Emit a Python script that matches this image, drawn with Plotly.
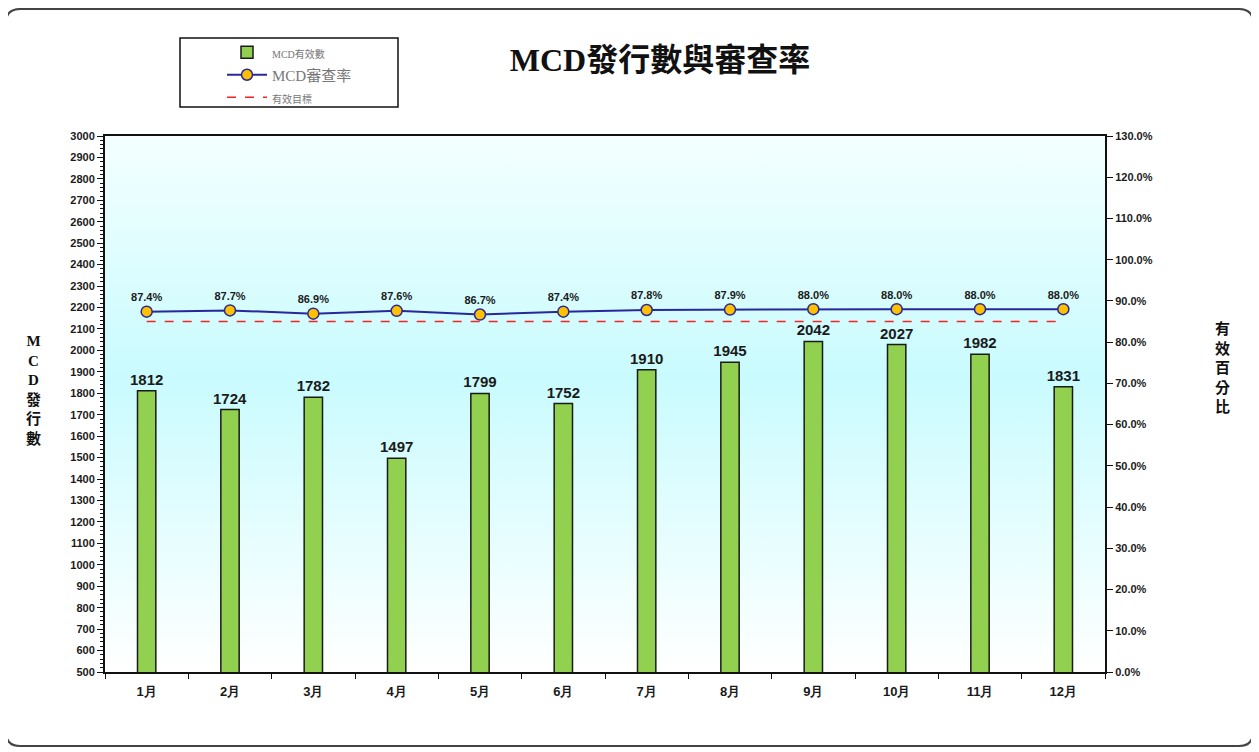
import base64

import plotly.graph_objects as go

months = ["1月", "2月", "3月", "4月", "5月", "6月", "7月", "8月", "9月", "10月", "11月", "12月"]
valid_counts = [1812, 1724, 1782, 1497, 1799, 1752, 1910, 1945, 2042, 2027, 1982, 1831]
review_rates = [0.874, 0.877, 0.869, 0.876, 0.867, 0.874, 0.878, 0.879, 0.880, 0.880, 0.880, 0.880]
target_rate = [0.85] * len(months)

# page is offset by the 8px body margin, so work in reference pixels minus 8
OFF = 8
W, H = 1259 - OFF, 752 - OFF
L, R, T, B = 105 - OFF, 154, 136 - OFF, 80
PW, PH = W - L - R, H - T - B


def px_x(v):
    return (v - OFF - L) / PW


def px_y(v):
    return (H - B - (v - OFF)) / PH


# cyan gradient behind the plot area
svg = (
    '<svg xmlns="http://www.w3.org/2000/svg" width="100" height="100" preserveAspectRatio="none">'
    '<defs><linearGradient id="g" x1="0" y1="0" x2="0" y2="1">'
    '<stop offset="0" stop-color="#f4ffff"/><stop offset="0.45" stop-color="#c9fbfe"/>'
    '<stop offset="1" stop-color="#ffffff"/></linearGradient></defs>'
    '<rect width="100" height="100" fill="url(#g)"/></svg>'
)
bg_src = "data:image/svg+xml;base64," + base64.b64encode(svg.encode()).decode()

bold = dict(family="Arial, Liberation Sans", color="#1a1a1a", weight="bold")

fig = go.Figure()
fig.add_trace(go.Bar(
    x=months, y=valid_counts, name='<span style="font-size:10px">MCD有效數</span>', width=0.22,
    marker=dict(color="#92d050", line=dict(color="#1a1a1a", width=1.5)),
    text=valid_counts, textposition="outside", cliponaxis=False, constraintext="none",
    textfont=dict(size=15, **bold),
))
fig.add_trace(go.Scatter(
    x=months, y=review_rates, name="MCD審查率",
    yaxis="y2", mode="lines+markers+text",
    line=dict(color="#28289a", width=2),
    marker=dict(color="#ffc000", size=11, line=dict(color="#28289a", width=1.5)),
    text=[f"{r:.1%}" for r in review_rates], textposition="top center",
    textfont=dict(size=11, **bold),
))
fig.add_trace(go.Scatter(
    x=months, y=target_rate, name='<span style="font-size:10px">有效目標</span>',
    yaxis="y2", mode="lines",
    line=dict(color="#ff2020", width=1.5, dash="dash"),
))

tick_font = dict(size=11, **bold)
fig.update_layout(
    width=W, height=H,
    margin=dict(l=L, r=R, t=T, b=B),
    paper_bgcolor="white", plot_bgcolor="rgba(0,0,0,0)",
    showlegend=True,
    legend=dict(
        x=px_x(222), y=px_y(36), xanchor="left", yanchor="top",
        bgcolor="rgba(0,0,0,0)", borderwidth=0,
        font=dict(family="Liberation Serif, Noto Sans CJK TC", size=15, color="#777"),
        tracegroupgap=0, itemwidth=40,
    ),
    title=dict(
        text="<b>MCD發行數與審查率</b>", x=(660 - OFF) / W, y=1 - (60 - OFF) / H,
        xanchor="center", yanchor="middle",
        font=dict(family="Liberation Serif, Noto Sans CJK TC", size=32, color="#111"),
    ),
    xaxis=dict(
        type="category", range=[-0.5, len(months) - 0.5],
        showline=True, linecolor="#111", linewidth=2, mirror=True,
        ticks="outside", tickson="boundaries", ticklen=5, tickcolor="#111",
        tickfont=dict(size=13, **bold), ticklabelstandoff=6,
    ),
    yaxis=dict(
        range=[500, 3000], dtick=100, showgrid=False, zeroline=False,
        showline=True, linecolor="#111", linewidth=2,
        ticks="outside", ticklen=6, tickcolor="#111", tickfont=tick_font,
        minor=dict(dtick=20, ticks="outside", ticklen=3, tickcolor="#111"),
    ),
    yaxis2=dict(
        range=[0, 1.3], dtick=0.1, tickformat=".1%", overlaying="y", side="right",
        showgrid=False, zeroline=False, showline=True, linecolor="#111", linewidth=2,
        ticks="outside", ticklen=6, tickcolor="#111", tickfont=tick_font,
    ),
    images=[dict(
        source=bg_src, xref="paper", yref="paper", x=0, y=1, sizex=1, sizey=1,
        xanchor="left", yanchor="top", sizing="stretch", layer="below",
    )],
)

# legend frame
fig.add_shape(type="rect", xref="paper", yref="paper",
              x0=px_x(180), x1=px_x(398), y0=px_y(107), y1=px_y(38),
              line=dict(color="#111", width=1.5), fillcolor="white", layer="below")

# vertical axis titles
axis_title_font = dict(family="Liberation Serif, Noto Sans CJK TC", size=15, color="#111")
fig.add_annotation(
    xref="paper", yref="paper", x=px_x(24), y=px_y(390), showarrow=False,
    text="<b>M<br>C<br>D<br>發<br>行<br>數</b>", font=axis_title_font,
)
fig.add_annotation(
    xref="paper", yref="paper", x=px_x(1232), y=px_y(368), showarrow=False,
    text="<b>有<br>效<br>百<br>分<br>比</b>", font=axis_title_font,
)

# rounded outer frame
x0, x1 = px_x(6), px_x(1253)
y0, y1 = px_y(746), px_y(9)
rx, ry = 14 / PW, 14 / PH
frame = (
    f"M {x0 + rx} {y1} L {x1 - rx} {y1} Q {x1} {y1} {x1} {y1 - ry} "
    f"L {x1} {y0 + ry} Q {x1} {y0} {x1 - rx} {y0} "
    f"L {x0 + rx} {y0} Q {x0} {y0} {x0} {y0 + ry} "
    f"L {x0} {y1 - ry} Q {x0} {y1} {x0 + rx} {y1} Z"
)
fig.add_shape(type="path", xref="paper", yref="paper", path=frame,
              line=dict(color="#444", width=2))

fig.write_html("out.html")
